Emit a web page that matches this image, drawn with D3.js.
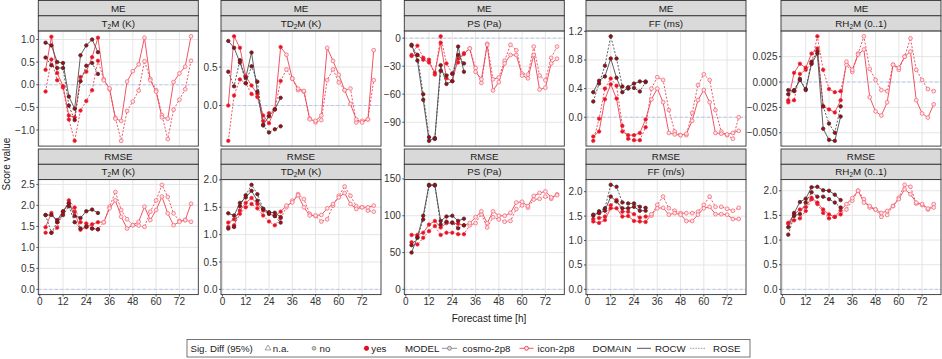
<!DOCTYPE html>
<html><head><meta charset="utf-8">
<script src="https://cdn.jsdelivr.net/npm/d3@7"></script>
<style>
body{margin:0;background:#fff}
svg{display:block}
text{font-family:"Liberation Sans",Arial,Helvetica,sans-serif}
</style>
</head><body>
<svg id="chart" width="942" height="359"></svg>
<script>
// ---------------- DATA ----------------
const leadTimes  = [3,6,9,12,15,18,21,24,27,30,33,36,39,42,45,48,51,54,57,60,63,66,69,72,75,78];
const cosmoTimes = [3,6,9,12,15,18,21,24,27,30];
const xTicks = [0,12,24,36,48,60,72];

const meT2M = {
  cosmoROCW: [0.93,0.87,0.50,0.48,-0.26,-0.53,0.65,0.87,1.00,0.72],
  cosmoROSE: [0.60,0.43,0.37,0.37,-0.46,-0.78,0.08,0.42,0.48,0.24],
  iconROCW:  [0.33,1.06,0.26,-0.03,-0.68,-0.72,0.17,0.29,0.61,1.04,0.10,-0.08,-0.75,-0.80,0.07,0.30,0.45,1.04,0.10,-0.15,-0.72,-0.75,0.06,0.25,0.40,1.07],
  iconROSE:  [-0.15,0.56,0.10,-0.06,-0.77,-1.24,-0.57,-0.36,-0.12,0.53,0.12,-0.10,-0.73,-1.24,-0.58,-0.37,-0.13,0.52,0.13,-0.12,-0.67,-1.20,-0.55,-0.33,-0.10,0.53]
};
const meTD2M = {
  cosmoROCW: [0.84,0.75,0.56,0.36,0.69,0.18,-0.25,-0.14,-0.05,0.10],
  cosmoROSE: [0.44,0.25,0.59,0.29,0.51,0.31,-0.26,-0.35,-0.31,-0.27],
  iconROCW:  [0.00,0.90,0.75,0.38,0.26,0.15,-0.13,-0.23,-0.05,0.76,0.66,0.35,0.22,0.19,-0.18,-0.20,-0.13,0.75,0.58,0.40,0.20,0.02,-0.18,-0.22,-0.18,0.72],
  iconROSE:  [-0.46,0.13,0.34,0.29,0.15,0.11,-0.20,-0.10,-0.05,0.32,0.47,0.35,0.20,0.18,-0.17,-0.22,-0.19,0.33,0.47,0.30,0.20,0.22,-0.22,-0.20,-0.18,0.33]
};
const mePS = {
  cosmoROCW: [-7,-24,-66,-110,-107,-29,-49,-46,-9,-36],
  cosmoROSE: [-8,-18,-60,-106,-108,-35,-40,-38,-18,-27],
  iconROCW:  [-19,-18,-23,-26,-37,-5,-43,-46,-22,-17,-11,-36,-44,-7,-56,-47,-27,-18,-18,-40,-43,-18,-55,-53,-27,-22],
  iconROSE:  [-18,-8,-21,-23,-39,2,-27,-38,-26,-16,-11,-32,-48,-6,-44,-42,-24,-7,-13,-38,-39,-9,-40,-45,-21,-9]
};
const meFF = {
  cosmoROCW: [0.35,0.51,0.57,0.82,0.55,0.35,0.42,0.47,0.50,0.50],
  cosmoROSE: [0.22,0.47,0.72,1.13,0.82,0.43,0.40,0.41,0.36,0.49],
  iconROCW:  [-0.27,-0.20,0.25,0.46,0.26,-0.20,-0.25,-0.25,-0.22,-0.03,0.25,0.40,0.21,-0.22,-0.24,-0.25,-0.23,-0.05,0.24,0.38,0.21,-0.22,-0.23,-0.24,-0.22,-0.19],
  iconROSE:  [-0.33,-0.02,0.40,0.54,0.44,-0.12,-0.30,-0.32,-0.32,-0.14,0.40,0.56,0.52,0.10,-0.20,-0.25,-0.25,0.06,0.45,0.60,0.52,0.10,-0.20,-0.25,-0.30,0.00]
};
const meRH2M = {
  cosmoROCW: [-0.008,-0.009,0.002,-0.008,0.018,0.028,-0.046,-0.057,-0.058,-0.034],
  cosmoROSE: [-0.012,-0.008,0.003,-0.007,0.020,0.030,-0.024,-0.041,-0.050,-0.024],
  iconROCW:  [-0.018,0.009,0.018,0.014,0.028,0.033,-0.024,-0.027,-0.030,-0.018,0.020,0.012,0.027,0.032,-0.015,-0.029,-0.033,-0.020,0.017,0.014,0.025,0.030,-0.018,-0.031,-0.035,-0.022],
  iconROSE:  [-0.020,-0.018,0.008,0.012,0.018,0.045,0.012,-0.007,-0.010,-0.009,0.017,0.010,0.028,0.045,0.013,0.002,-0.008,-0.009,0.017,0.012,0.025,0.043,0.012,0.002,-0.007,-0.009]
};
const rmseT2M = {
  cosmoROCW: [1.77,1.77,1.65,1.86,2.05,1.75,1.70,1.86,1.90,1.82],
  cosmoROSE: [1.77,1.35,1.60,1.77,1.98,1.60,1.45,1.50,1.45,1.43],
  iconROCW:  [1.48,1.82,1.60,1.85,2.05,1.85,1.42,1.48,1.55,1.60,1.60,1.93,2.12,1.73,1.45,1.53,1.61,1.97,1.65,1.89,2.21,1.81,1.53,1.61,1.65,2.04],
  iconROSE:  [1.35,1.35,1.47,1.82,2.12,1.95,1.60,1.57,1.45,1.43,1.60,1.97,2.32,1.89,1.67,1.53,1.52,1.49,1.85,2.12,2.49,2.20,1.81,1.63,1.65,1.61]
};
const rmseTD2M = {
  cosmoROCW: [1.39,1.35,1.58,1.68,1.80,1.62,1.47,1.41,1.40,1.32],
  cosmoROSE: [1.11,1.14,1.52,1.72,1.91,1.74,1.47,1.38,1.34,1.22],
  iconROCW:  [1.22,1.28,1.44,1.58,1.67,1.56,1.44,1.38,1.34,1.42,1.53,1.59,1.72,1.50,1.35,1.35,1.36,1.48,1.56,1.68,1.76,1.56,1.47,1.50,1.50,1.53],
  iconROSE:  [1.14,1.17,1.38,1.50,1.56,1.48,1.35,1.24,1.17,1.30,1.50,1.62,1.74,1.65,1.38,1.34,1.24,1.28,1.53,1.71,1.88,1.71,1.52,1.50,1.44,1.42]
};
const rmsePS = {
  cosmoROCW: [50,71,100,142,142,93,99,100,93,96],
  cosmoROSE: [60,70,95,141,141,88,92,91,83,87],
  iconROCW:  [74,74,77,88,93,84,90,90,89,87,90,98,106,90,106,100,100,104,118,119,113,127,131,133,125,128],
  iconROSE:  [64,61,70,79,86,74,77,77,75,75,87,90,102,84,98,95,92,93,109,114,111,122,123,126,123,129]
};
const rmseFF = {
  cosmoROCW: [1.53,1.56,1.61,1.90,1.80,1.66,1.66,1.69,1.61,1.61],
  cosmoROSE: [1.51,1.60,1.66,2.14,2.10,1.78,1.76,1.76,1.69,1.67],
  iconROCW:  [1.39,1.36,1.42,1.66,1.66,1.49,1.50,1.40,1.39,1.38,1.54,1.66,1.67,1.53,1.56,1.53,1.40,1.40,1.53,1.66,1.69,1.54,1.54,1.53,1.44,1.44],
  iconROSE:  [1.44,1.46,1.49,1.72,1.83,1.59,1.59,1.54,1.47,1.49,1.51,1.73,1.90,1.66,1.61,1.56,1.56,1.56,1.59,1.73,1.90,1.69,1.69,1.65,1.61,1.67]
};
const rmseRH2M = {
  cosmoROCW: [1.26,1.55,1.77,1.84,2.07,2.08,2.01,2.00,1.92,1.81],
  cosmoROSE: [1.11,1.49,1.53,1.76,1.97,1.88,1.88,1.83,1.76,1.66],
  iconROCW:  [1.35,1.52,1.62,1.67,1.86,1.76,1.62,1.52,1.47,1.60,1.73,1.85,2.00,1.76,1.69,1.62,1.55,1.59,1.69,1.83,2.03,1.93,1.76,1.73,1.64,1.66],
  iconROSE:  [1.33,1.40,1.44,1.59,1.83,1.73,1.55,1.44,1.47,1.52,1.62,1.80,2.00,1.83,1.66,1.62,1.47,1.51,1.69,1.86,2.12,2.08,1.74,1.71,1.62,1.73]
};

const scoreNames = ["ME","RMSE"];
// parameter labels: [before subscript, subscript, after]
const paramLabelsME   = [["T","2","M (K)"],["TD","2","M (K)"],["PS (Pa)","",""],["FF (ms)","",""],["RH","2","M (0..1)"]];
const paramLabelsRMSE = [["T","2","M (K)"],["TD","2","M (K)"],["PS (Pa)","",""],["FF (m/s)","",""],["RH","2","M (0..1)"]];
const yTicksME   = [[-1,-0.5,0,0.5,1],[0,0.5],[-90,-60,-30,0],[0,0.4,0.8,1.2],[-0.05,-0.025,0,0.025]];
const yTickLabME = [["−1.0","−0.5","0.0","0.5","1.0"],["0.0","0.5"],["−90","−60","−30","0"],["0.0","0.4","0.8","1.2"],["−0.050","−0.025","0.000","0.025"]];
const yTicksRMSE   = [[0,0.5,1,1.5,2,2.5],[0,0.5,1,1.5,2],[0,50,100,150],[0,0.5,1,1.5,2],[0,0.5,1,1.5,2]];
const yTickLabRMSE = [["0.0","0.5","1.0","1.5","2.0","2.5"],["0.0","0.5","1.0","1.5","2.0"],["0","50","100","150"],["0.0","0.5","1.0","1.5","2.0"],["0.0","0.5","1.0","1.5","2.0"]];
const dataME   = [meT2M, meTD2M, mePS, meFF, meRH2M];
const dataRMSE = [rmseT2M, rmseTD2M, rmsePS, rmseFF, rmseRH2M];

const legendLabels = {sig:"Sig. Diff (95%)", na:"n.a.", no:"no", yes:"yes", model:"MODEL", cosmo:"cosmo-2p8", icon:"icon-2p8", domain:"DOMAIN", rocw:"ROCW", rose:"ROSE"};

// ---------------- STYLE / LAYOUT ----------------
const COL_COSMO = "#4d4d4d";
const COL_ICON  = "#ee4152";
const FILL_YES_COSMO = "#b8000e";
const FILL_YES_ICON  = "#e8101f";
const colLeft = [38.3, 221, 404.3, 586, 781];
const panelW = 160, panelH = 115, stripH = 15.3;
const rowTop = [0.5, 149];

const svg = d3.select("#chart");

function drawPanel(row, col, data, label, yTicks, yLabs) {
  const L = colLeft[col];
  const T0 = rowTop[row];
  const PT = T0 + 2*stripH;
  const g = svg.append("g");

  // strips
  const strips = [[scoreNames[row],"",""], label];
  strips.forEach((s, i) => {
    const y0 = T0 + i*stripH;
    g.append("rect").attr("x", L).attr("y", y0).attr("width", panelW).attr("height", stripH)
      .attr("fill", "#d9d9d9").attr("stroke", "#333").attr("stroke-width", 0.9);
    const t = g.append("text").attr("x", L + panelW/2).attr("y", y0 + stripH/2 + 3.5)
      .attr("text-anchor", "middle").attr("font-size", 9.8).attr("fill", "#1a1a1a");
    t.append("tspan").text(s[0]);
    if (s[1]) {
      t.append("tspan").attr("font-size", 6.5).attr("dy", 2).text(s[1]);
      t.append("tspan").attr("dy", -2).text(s[2]);
    }
  });

  // scales
  const xExt = d3.extent(leadTimes);
  const xPad = (xExt[1]-xExt[0])*0.05;
  const x = d3.scaleLinear().domain([xExt[0]-xPad, xExt[1]+xPad]).range([L, L+panelW]);
  const allVals = [].concat(data.cosmoROCW, data.cosmoROSE, data.iconROCW, data.iconROSE, [0]);
  const yExt = d3.extent(allVals);
  const yPad = (yExt[1]-yExt[0])*0.05;
  const y = d3.scaleLinear().domain([yExt[0]-yPad, yExt[1]+yPad]).range([PT+panelH, PT]);

  // panel background + grid
  g.append("rect").attr("x", L).attr("y", PT).attr("width", panelW).attr("height", panelH).attr("fill", "#fff");
  const grid = g.append("g").attr("stroke", "#e2e2e2").attr("stroke-width", 0.9);
  xTicks.forEach(v => grid.append("line").attr("x1", x(v)).attr("x2", x(v)).attr("y1", PT).attr("y2", PT+panelH));
  yTicks.forEach(v => grid.append("line").attr("x1", L).attr("x2", L+panelW).attr("y1", y(v)).attr("y2", y(v)));

  // zero line
  g.append("line").attr("x1", L).attr("x2", L+panelW).attr("y1", y(0)).attr("y2", y(0))
    .attr("stroke", "#b0c4ee").attr("stroke-width", 0.9).attr("stroke-dasharray", "3,2.5");

  const clip = "clip-" + row + "-" + col;
  svg.append("clipPath").attr("id", clip).append("rect").attr("x", L).attr("y", PT).attr("width", panelW).attr("height", panelH);
  const pg = g.append("g").attr("clip-path", `url(#${clip})`);

  const line = (times) => d3.line().x((d,i) => x(times[i])).y(d => y(d));
  const series = [
    {vals: data.iconROSE,  times: leadTimes,  col: COL_ICON,  dash: "2,1.6", model: "icon"},
    {vals: data.iconROCW,  times: leadTimes,  col: COL_ICON,  dash: null,    model: "icon"},
    {vals: data.cosmoROSE, times: cosmoTimes, col: COL_COSMO, dash: "2,1.6", model: "cosmo"},
    {vals: data.cosmoROCW, times: cosmoTimes, col: COL_COSMO, dash: null,    model: "cosmo"}
  ];
  series.forEach(s => {
    pg.append("path").attr("d", line(s.times)(s.vals)).attr("fill", "none")
      .attr("stroke", s.col).attr("stroke-width", 0.95)
      .attr("stroke-dasharray", s.dash).attr("opacity", 0.95);
  });
  series.forEach(s => {
    pg.selectAll(null).data(s.vals).join("circle")
      .attr("cx", (d,i) => x(s.times[i])).attr("cy", d => y(d))
      .attr("r", (d,i) => s.times[i] <= 30 ? 1.75 : 1.9)
      .attr("fill", (d,i) => s.times[i] <= 30 ? (s.model === "cosmo" ? FILL_YES_COSMO : FILL_YES_ICON) : "#fde3e6")
      .attr("stroke", (d,i) => s.model === "cosmo" ? "#333" : (s.times[i] <= 30 ? "#e8303f" : "#f26674"))
      .attr("stroke-width", 0.75);
  });

  // border
  g.append("rect").attr("x", L).attr("y", PT).attr("width", panelW).attr("height", panelH)
    .attr("fill", "none").attr("stroke", "#333").attr("stroke-width", 0.9);

  // y axis ticks + labels
  yTicks.forEach((v, i) => {
    g.append("line").attr("x1", L-2).attr("x2", L).attr("y1", y(v)).attr("y2", y(v)).attr("stroke", "#333").attr("stroke-width", 0.8);
    g.append("text").attr("x", L-3.5).attr("y", y(v)+3.5).attr("text-anchor", "end")
      .attr("font-size", 10).attr("fill", "#333").text(yLabs[i]);
  });
  // x axis only on bottom row
  if (row === 1) {
    xTicks.forEach(v => {
      g.append("line").attr("x1", x(v)).attr("x2", x(v)).attr("y1", PT+panelH).attr("y2", PT+panelH+2).attr("stroke", "#333").attr("stroke-width", 0.8);
      g.append("text").attr("x", x(v)).attr("y", PT+panelH+10.5).attr("text-anchor", "middle")
        .attr("font-size", 10).attr("fill", "#333").text(v);
    });
  }
}

for (let c = 0; c < 5; c++) {
  drawPanel(0, c, dataME[c], paramLabelsME[c], yTicksME[c], yTickLabME[c]);
  drawPanel(1, c, dataRMSE[c], paramLabelsRMSE[c], yTicksRMSE[c], yTickLabRMSE[c]);
}

// axis titles
svg.append("text").attr("transform", "translate(10,164) rotate(-90)").attr("text-anchor", "middle")
  .attr("font-size", 10).attr("fill", "#1a1a1a").text("Score value");
svg.append("text").attr("x", 489).attr("y", 322).attr("text-anchor", "middle")
  .attr("font-size", 10).attr("fill", "#1a1a1a").text("Forecast time [h]");

// legend
const lg = svg.append("g");
const ly = 348.3, lfs = 9.7;
lg.append("rect").attr("x", 187).attr("y", 339.5).attr("width", 563).attr("height", 17.5)
  .attr("fill", "#fff").attr("stroke", "#555").attr("stroke-width", 0.8);
const ltxt = (xx, s) => lg.append("text").attr("x", xx).attr("y", ly+3.4).attr("font-size", lfs).attr("fill", "#1a1a1a").text(s);
ltxt(190.5, legendLabels.sig);
lg.append("path").attr("d", d3.symbol(d3.symbolTriangle, 14)()).attr("transform", `translate(268,${ly})`)
  .attr("fill", "none").attr("stroke", "#777").attr("stroke-width", 0.7);
ltxt(272.8, legendLabels.na);
lg.append("circle").attr("cx", 314).attr("cy", ly).attr("r", 1.9).attr("fill", "#c8c8c8").attr("stroke", "#777").attr("stroke-width", 0.7);
ltxt(319.5, legendLabels.no);
lg.append("circle").attr("cx", 366.5).attr("cy", ly).attr("r", 2.2).attr("fill", FILL_YES_ICON).attr("stroke", "#c00010").attr("stroke-width", 0.6);
ltxt(371.3, legendLabels.yes);
ltxt(405, legendLabels.model);
lg.append("line").attr("x1", 442).attr("x2", 457).attr("y1", ly).attr("y2", ly).attr("stroke", "#888").attr("stroke-width", 0.9);
lg.append("circle").attr("cx", 449.5).attr("cy", ly).attr("r", 2).attr("fill", "#ddd").attr("stroke", "#777").attr("stroke-width", 0.8);
ltxt(462.5, legendLabels.cosmo);
lg.append("line").attr("x1", 519.5).attr("x2", 533.5).attr("y1", ly).attr("y2", ly).attr("stroke", COL_ICON).attr("stroke-width", 0.9);
lg.append("circle").attr("cx", 526.5).attr("cy", ly).attr("r", 2).attr("fill", "#fde3e6").attr("stroke", COL_ICON).attr("stroke-width", 0.9);
ltxt(537.5, legendLabels.icon);
ltxt(592.5, legendLabels.domain);
lg.append("line").attr("x1", 637).attr("x2", 651).attr("y1", ly).attr("y2", ly).attr("stroke", "#555").attr("stroke-width", 1);
ltxt(655, legendLabels.rocw);
lg.append("line").attr("x1", 690).attr("x2", 706).attr("y1", ly).attr("y2", ly).attr("stroke", "#999").attr("stroke-width", 1).attr("stroke-dasharray", "1.5,1.2");
ltxt(713, legendLabels.rose);
</script>
</body></html>
